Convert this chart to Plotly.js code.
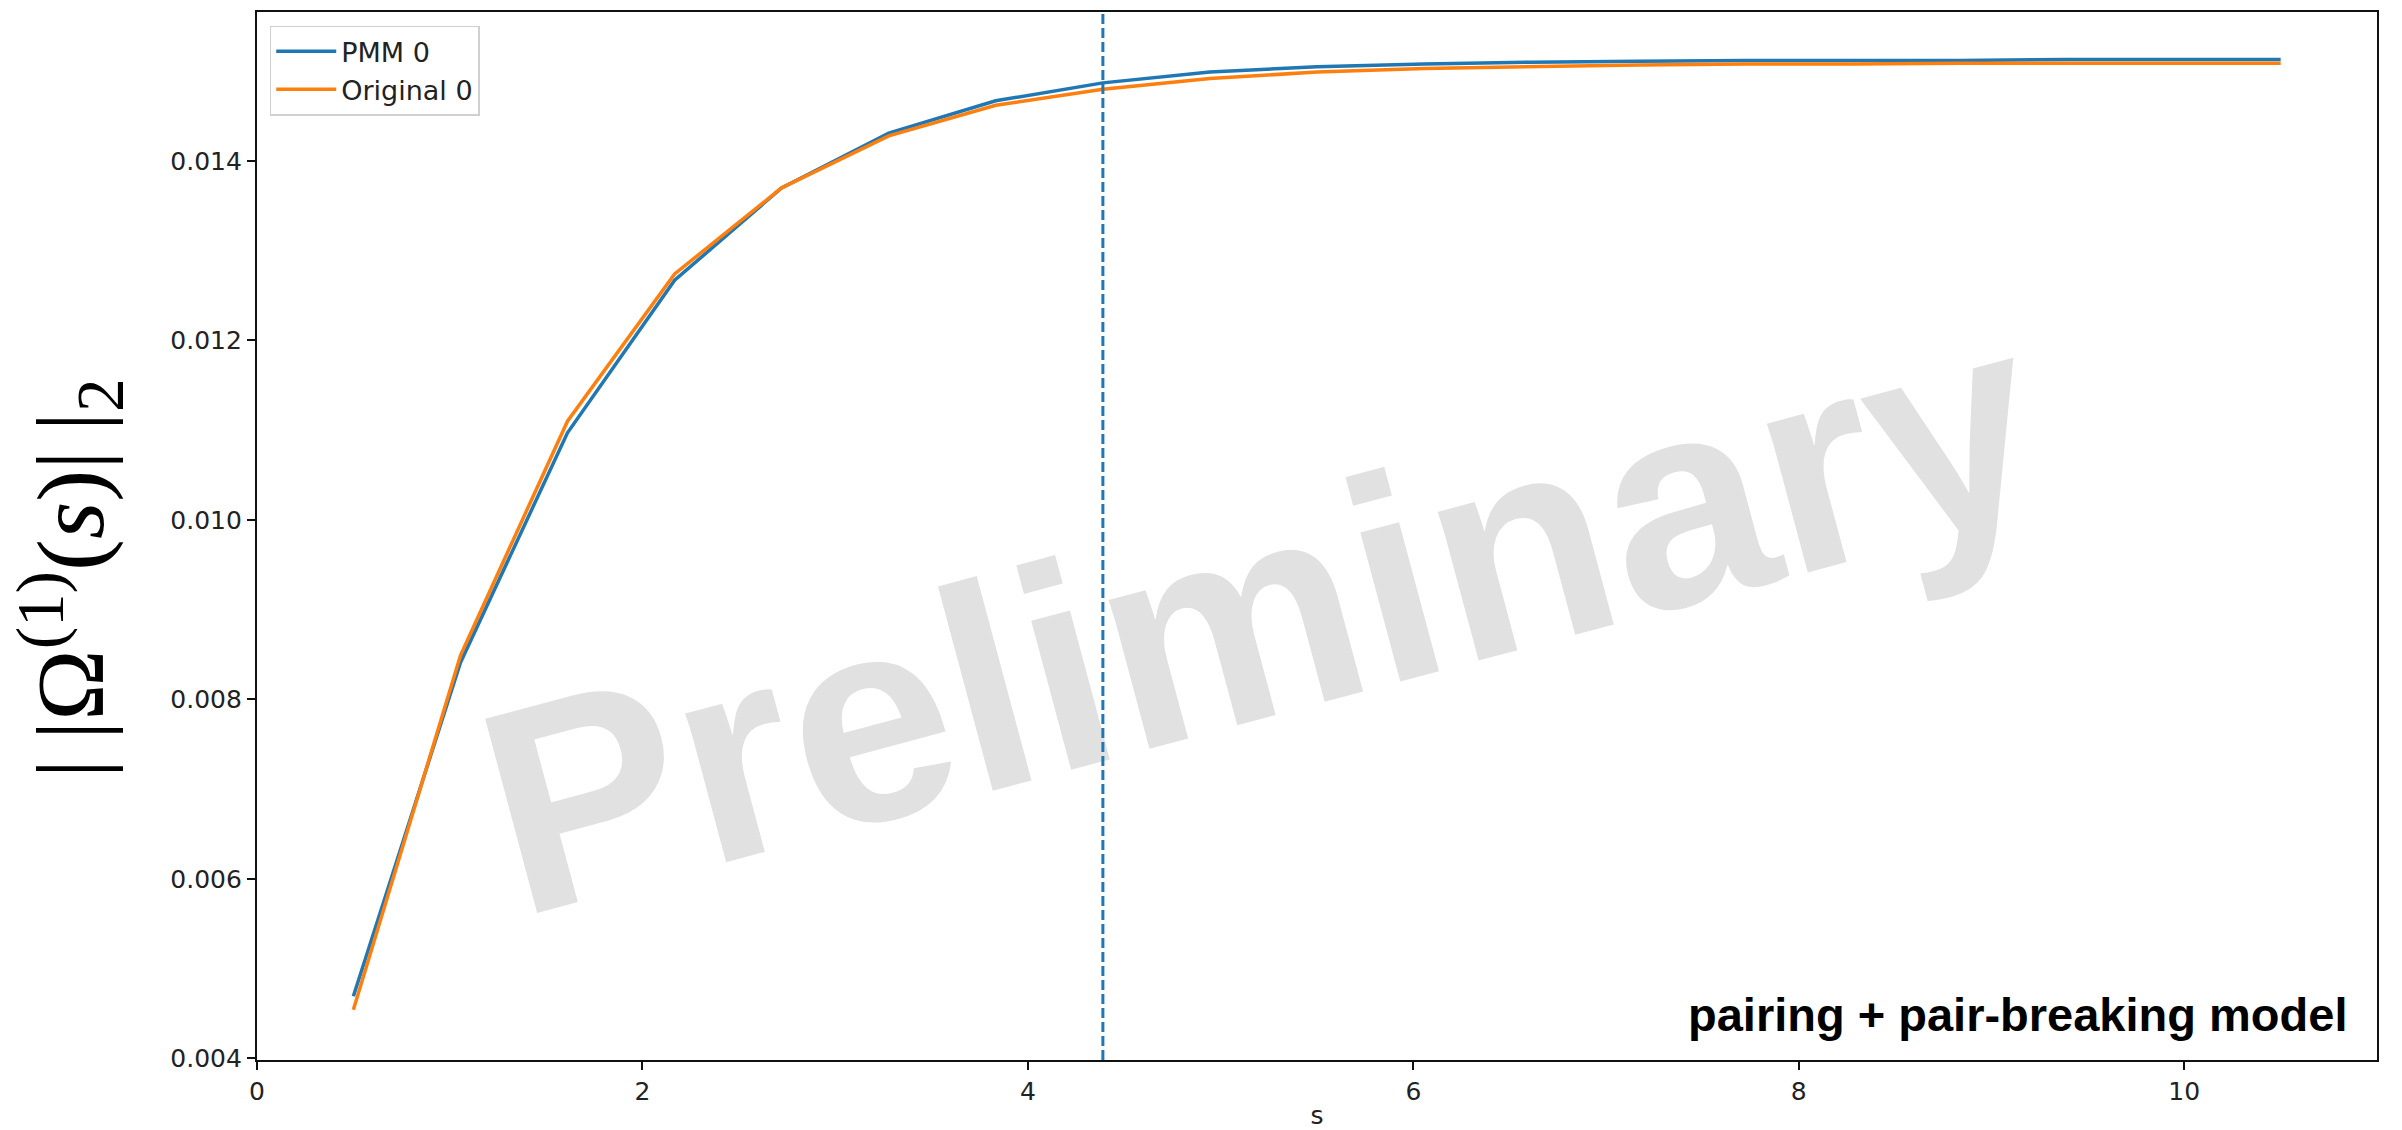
<!DOCTYPE html>
<html>
<head>
<meta charset="utf-8">
<script src="https://cdn.plot.ly/plotly-3.0.1.min.js"></script>
<style>
  html, body { margin: 0; padding: 0; background: #fff; }
  #chart { width: 2402px; height: 1130px; }
</style>
</head>
<body>
<div id="chart"></div>
<script>
// ---- data ----
const sValues = [0.5, 1.056, 1.611, 2.167, 2.722, 3.278, 3.833, 4.389, 4.944, 5.5,
                 6.056, 6.611, 7.167, 7.722, 8.278, 8.833, 9.389, 9.944, 10.5];
const pmm0 = [0.00469, 0.00841, 0.01097, 0.01267, 0.01370, 0.01431, 0.01467, 0.01487, 0.01499, 0.01505,
              0.01508, 0.01510, 0.01511, 0.01512, 0.01512, 0.01512, 0.01513, 0.01513, 0.01513];
const original0 = [0.00454, 0.00849, 0.01110, 0.01274, 0.01370, 0.01428, 0.01462, 0.01480, 0.01492, 0.01499,
                   0.01503, 0.01505, 0.01507, 0.01508, 0.01508, 0.01509, 0.01509, 0.01509, 0.01509];
const seriesNames = ["PMM 0", "Original 0"];
const markerS = 4.389;
const xTickVals = [0, 2, 4, 6, 8, 10];
const yTickVals = [0.004, 0.006, 0.008, 0.010, 0.012, 0.014];
const xLabel = "s";
const yLabel = "|\u2009|Ω<sup>(1)</sup>(<i>s</i>)|\u2009|<sub>2</sub>";
const modelLabel = "pairing + pair-breaking model";
const watermark = "Preliminary";

const tickFont = { family: "DejaVu Sans", size: 25, color: "#222" };

const traces = [
  { x: sValues, y: pmm0, name: seriesNames[0], type: "scatter", mode: "lines",
    line: { color: "#1f77b4", width: 3.5 } },
  { x: sValues, y: original0, name: seriesNames[1], type: "scatter", mode: "lines",
    line: { color: "#ff7f0e", width: 3.5 } }
];

const layout = {
  width: 2402, height: 1130,
  margin: { l: 257, r: 25, t: 12, b: 70 },
  paper_bgcolor: "#fff", plot_bgcolor: "#fff",
  showlegend: true,
  legend: {
    x: 0.006, y: 0.987, xanchor: "left", yanchor: "top",
    bgcolor: "rgba(255,255,255,0.9)", bordercolor: "#d0d0d0", borderwidth: 1.5,
    font: { family: "DejaVu Sans", size: 27, color: "#222" },
    itemwidth: 60,
    tracegroupgap: 0
  },
  xaxis: {
    range: [0, 11], tickvals: xTickVals, ticktext: xTickVals.map(String),
    showgrid: false, zeroline: false, showline: true, mirror: true,
    linecolor: "#111", linewidth: 2.2, ticks: "outside", ticklen: 8, tickwidth: 2, tickcolor: "#111",
    tickfont: tickFont,
    title: { text: xLabel, font: { family: "DejaVu Sans", size: 25, color: "#222" }, standoff: 28 }
  },
  yaxis: {
    range: [0.00398, 0.01566], tickvals: yTickVals, tickformat: ".3f",
    showgrid: false, zeroline: false, showline: true, mirror: true,
    linecolor: "#111", linewidth: 2.2, ticks: "outside", ticklen: 8, tickwidth: 2, tickcolor: "#111",
    tickfont: tickFont
  },
  shapes: [
    { type: "rect", xref: "paper", yref: "paper", x0: 0.3, x1: 0.64, y0: 0.35, y1: 0.55,
      layer: "below", line: { width: 0 }, fillcolor: "rgba(0,0,0,0)",
      label: { text: watermark, textangle: -15, textposition: "middle center",
               font: { family: "Liberation Sans", size: 292, color: "#e1e1e1", weight: "bold" } } },
    { type: "line", xref: "x", yref: "paper", x0: markerS, x1: markerS, y0: 0, y1: 1,
      layer: "above", line: { color: "#1f77b4", width: 3, dash: "10px,4px" } }
  ],
  annotations: [
    { xref: "paper", yref: "paper", x: 0.987, y: 0.043, xanchor: "right", yanchor: "middle",
      text: "<b>" + modelLabel + "</b>", showarrow: false,
      font: { family: "Liberation Sans", size: 47, color: "#000" } },
    { xref: "paper", yref: "paper", x: -0.088, y: 0.46, xanchor: "center", yanchor: "middle",
      text: yLabel, textangle: -90, showarrow: false,
      font: { family: "Liberation Serif", size: 96, color: "#000" } }
  ]
};

Plotly.newPlot("chart", traces, layout, { displayModeBar: false, responsive: false });
</script>
</body>
</html>
